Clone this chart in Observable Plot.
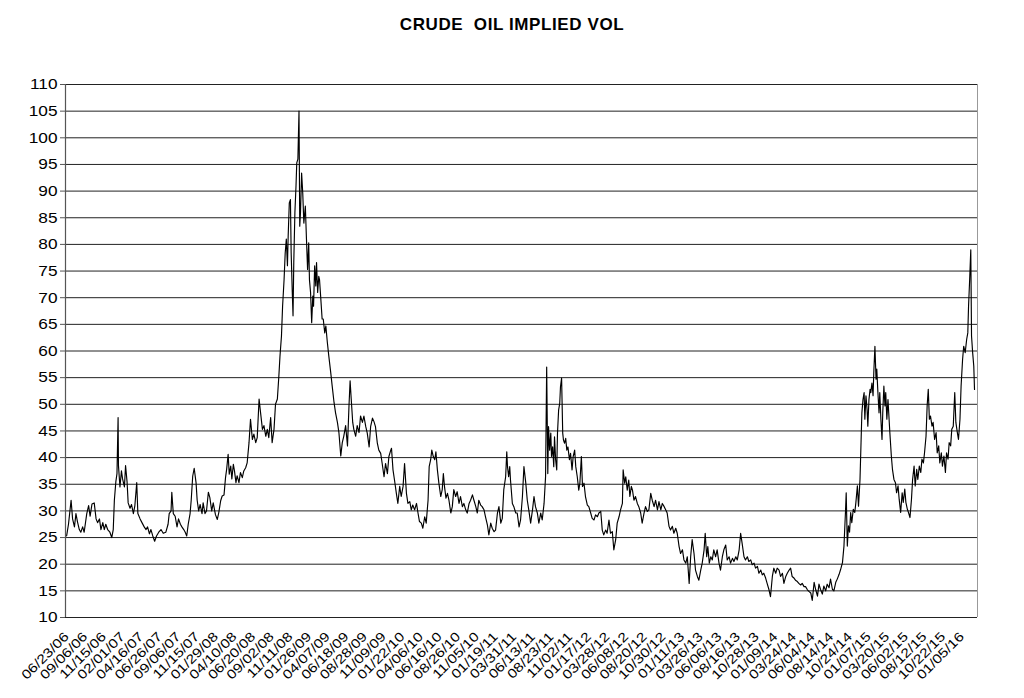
<!DOCTYPE html>
<html>
<head>
<meta charset="utf-8">
<script src="https://cdn.jsdelivr.net/npm/d3@7"></script>
<script src="https://cdn.jsdelivr.net/npm/@observablehq/plot@0.6"></script>
<style>
  html, body { margin: 0; padding: 0; background: #fff; }
  #wrap { position: relative; width: 1024px; height: 698px; }
  #title { position: absolute; top: 15px; left: 0; width: 1024px; text-align: center;
           font: bold 17px Arial, "Liberation Sans", sans-serif; letter-spacing: 0.6px; color: #000; }
</style>
</head>
<body>
<div id="wrap">
  <div id="title">CRUDE&nbsp; OIL IMPLIED VOL</div>
  <div id="chart"></div>
</div>
<script>
// Category labels shown every 50 trading days
const tickLabels = ["06/23/06","09/06/06","11/15/06","02/01/07","04/16/07","06/26/07","09/06/07","11/15/07",
  "01/29/08","04/10/08","06/20/08","09/02/08","11/11/08","01/26/09","04/07/09","06/18/09","08/28/09","11/09/09",
  "01/22/10","04/06/10","06/16/10","08/26/10","11/05/10","01/19/11","03/31/11","06/13/11","08/23/11","11/02/11",
  "01/17/12","03/28/12","06/08/12","08/20/12","10/30/12","01/11/13","03/26/13","06/06/13","08/16/13","10/28/13",
  "01/09/14","03/24/14","06/04/14","08/14/14","10/24/14","01/07/15","03/20/15","06/02/15","08/12/15","10/22/15","01/05/16"];
const labelStep = 50;
const yTicks = [10,15,20,25,30,35,40,45,50,55,60,65,70,75,80,85,90,95,100,105,110];

// [trading day index, implied vol]
const vol2006_2008 = [[0,25.3],[5,27.5],[12,32],[16,28.5],[21,27],[25,29.5],[29,28],[34,26.5],[38,26],[43,27],[47,26],[54,29.5],[59,31],[63,29],[68,31.3],[74,31.5],[79,28.5],[83,27.8],[88,28.5],[92,26.5],[97,27.8],[101,26.5],[105,27.5],[110,26.5],[116,26],[121,25],[125,26.5],[128,32],[132,35.5],[135,37],[138,47.5],[139,38.5],[143,34.5],[147,37.5],[150,36],[155,34.5],[158,38.5],[162,35.5],[165,31.5],[170,30.5],[174,31.2],[179,29.5],[183,31],[188,35.3],[191,29.5],[197,28.5],[202,27.8],[208,27],[213,26.5],[217,27],[222,25.7],[226,26.5],[231,25.3],[236,24.3],[241,25.3],[247,26],[253,26.5],[259,25.8],[266,26],[272,27.5],[275,29.5],[280,30],[282,33.5],[286,29.5],[291,29],[296,27],[300,28.5],[305,27.5],[309,27],[314,26.5],[318,26],[322,25.3],[326,27.5],[331,29.5],[334,32],[338,36.5],[342,38],[347,35.3],[350,32],[354,30],[358,31.2],[363,29.5],[366,31.5],[371,29.5],[375,30],[380,33.5],[384,32.5],[389,30],[393,31.5],[399,29.3]];
const vol2008_2009 = [[404,28.4],[408,29.7],[413,31.9],[417,32.8],[422,33],[426,36.25],[429,37.8],[433,40.6],[436,36.9],[440,38.4],[443,36],[447,38.75],[450,37.5],[454,35.3],[457,36.6],[462,35.3],[466,37.2],[471,36.25],[475,37.5],[480,38.1],[484,39],[489,42.8],[493,47.2],[498,43.4],[502,44.4],[507,42.8],[511,43.75],[516,51],[520,48.4],[525,45.3],[529,46],[534,44],[538,45.3],[542,43.75],[547,47.5],[551,42.8],[556,45.3],[560,50],[565,51],[569,55.3],[572,59],[576,62.8],[579,68.4],[583,73.4],[586,78.4],[589,81],[592,76],[594,81.6],[597,87.8],[600,88.4],[602,78.4],[605,71],[607,66.6],[609,76.6],[612,86],[615,91],[617,95.3],[620,96],[623,105],[625,83.4],[627,86],[630,93.4],[633,89.7],[636,84],[640,87.2],[643,81],[646,75.3],[649,80.3],[651,73.4],[654,71],[657,65.3],[660,70.3],[662,68.4],[665,76],[668,72.2],[670,76.6],[673,71],[676,74],[678,73.4],[681,70.3],[685,66],[688,66],[692,63.4],[695,64.7],[699,61.6],[703,59],[708,56],[712,53.4],[717,50.3],[721,48.4],[726,46.6],[730,44.7],[735,40.3],[739,42.8],[743,44],[748,46],[753,42.2],[757,49.7],[760,54.4],[763,51],[767,46.6],[770,45.3],[775,44],[779,46],[784,44.7],[788,47.8],[793,46.6],[797,47.8]];
const vol2009_2011 = [[802,45.8],[806,44.6],[811,42],[815,45.8],[820,47.4],[824,46.75],[828,45.8],[833,42.7],[837,41.4],[842,40.8],[846,38.9],[851,36.4],[855,38.9],[860,37],[864,40.2],[869,41.4],[871,41.75],[875,37.7],[879,35.8],[884,33.3],[888,31.4],[893,34.6],[897,32.7],[902,34.6],[906,38.9],[911,33.3],[915,31.4],[920,31.75],[924,30.2],[928,31.1],[933,30.2],[938,31.4],[942,29.6],[946,28],[951,27.7],[955,26.75],[960,28.9],[964,27.7],[969,32],[972,38.3],[976,39.6],[979,41.4],[983,40.2],[987,39.6],[990,41.1],[994,37.7],[998,35.2],[1003,32.7],[1007,34],[1010,37],[1013,34.6],[1017,32.4],[1021,33.3],[1025,32],[1030,29.6],[1034,30.8],[1038,34],[1043,32.7],[1047,33.6],[1052,31.4],[1056,32.7],[1061,30.8],[1065,31.4],[1070,30.2],[1074,29.6],[1079,31.4],[1083,32],[1088,33],[1092,32],[1097,30.8],[1101,29.6],[1105,32],[1110,31.1],[1114,30.8],[1119,30.2],[1123,28.9],[1128,27.4],[1132,25.5],[1137,27.7],[1141,26.75],[1146,26.1],[1150,26.4],[1155,29.6],[1159,30.8],[1164,27.7],[1168,28.6],[1172,34],[1177,36.4],[1180,41.1],[1182,38.3],[1185,36.4],[1188,38.3],[1190,35.8],[1195,31.4],[1199,30.8],[1204,29.6]];
const vol2011_2013 = [[1208,29.6],[1213,27],[1217,28.3],[1222,32.7],[1226,38.3],[1231,35.2],[1235,32],[1239,30.2],[1244,27.7],[1249,30.2],[1253,32.7],[1257,30.8],[1262,29.6],[1266,27.7],[1271,29.6],[1275,28.3],[1280,31.4],[1284,36.4],[1287,57],[1290,37],[1292,45.8],[1295,41.4],[1298,44.6],[1300,40.2],[1303,42],[1306,38.3],[1308,43.9],[1311,39.6],[1314,37.7],[1316,44.6],[1319,48.9],[1322,50.2],[1324,53.3],[1327,54.9],[1330,44.6],[1332,43.3],[1335,42.7],[1338,43.6],[1341,41.4],[1344,42],[1348,39.6],[1351,40.8],[1355,37.7],[1358,40.2],[1362,41.4],[1365,38.3],[1369,36.4],[1373,33.9],[1376,35.2],[1380,40.2],[1383,34.6],[1387,35.2],[1391,32.7],[1396,31.1],[1400,30.8],[1405,29.6],[1409,28.6],[1414,28.3],[1418,29.25],[1423,28.9],[1427,29.6],[1432,29.9],[1436,26.4],[1440,25.5],[1445,26.4],[1449,25.8],[1454,28.3],[1458,25.8],[1463,26.1],[1467,22.7],[1472,24.6],[1476,27.7],[1481,28.9],[1485,30.2],[1490,31.4],[1492,37.7],[1496,35.2],[1499,36.4],[1503,33.9],[1507,35.8],[1510,32.7],[1514,34.6],[1517,33.9],[1521,32],[1525,32.7],[1530,31.4],[1534,30.8],[1539,29.6],[1543,27.7],[1548,29.6],[1552,30.8],[1557,29.9],[1561,30.2],[1566,33.3],[1570,32],[1575,30.8],[1579,32],[1584,30.2],[1588,31.75],[1593,30.2],[1597,31.4],[1602,30.8]];
const vol2013_2014 = [[1606,30.2],[1610,29.6],[1615,27.1],[1619,26.4],[1624,27.1],[1628,25.8],[1633,26.75],[1637,25.8],[1642,23.3],[1646,22],[1651,22.7],[1655,20.8],[1660,20.2],[1664,21.4],[1669,16.4],[1673,21.4],[1677,24.6],[1682,22],[1686,18.9],[1691,17.7],[1695,17],[1700,18.9],[1704,20.2],[1709,22.7],[1712,25.8],[1716,21.4],[1719,23.3],[1723,20.2],[1727,21.4],[1731,20.8],[1735,22.7],[1740,21.4],[1744,22.7],[1749,20.2],[1753,18.9],[1758,21.4],[1762,22.7],[1767,23.6],[1771,20.8],[1776,21.4],[1780,20.2],[1785,21.1],[1789,20.5],[1794,21.4],[1798,20.8],[1803,22.7],[1807,25.8],[1811,23.9],[1816,21.4],[1820,20.8],[1825,21.4],[1829,20.5],[1834,20.8],[1838,19.9],[1843,20.2],[1847,19.25],[1852,19.6],[1856,18.3],[1861,18.9],[1865,18],[1869,18.3],[1874,17.4],[1878,16.4],[1883,15.2],[1887,13.9],[1892,17.7],[1896,19.25],[1901,18.3],[1905,19.25],[1910,18.9],[1914,17.7],[1919,18.3],[1923,16.4],[1928,17.7],[1932,18.3],[1937,18.9],[1941,19.25],[1945,17.7],[1950,17.4],[1954,17],[1959,16.75],[1963,16.4],[1968,16.1],[1972,16.4],[1977,15.8],[1981,15.8],[1986,15.2],[1990,14.9],[1995,14.6],[1999,13.2]];
const vol2014_2016 = [[2004,16.6],[2008,15.3],[2013,14],[2017,16.25],[2021,15.3],[2026,14.4],[2030,15.9],[2035,15],[2039,16.25],[2044,15.6],[2048,17.2],[2053,15.3],[2057,15],[2062,16.6],[2066,17.2],[2071,18.1],[2075,19],[2080,20.3],[2084,23.4],[2088,29.7],[2090,33.4],[2093,23.4],[2096,27.2],[2099,26],[2102,29.7],[2105,27.8],[2109,30.3],[2113,29.7],[2116,31.6],[2120,34.7],[2123,30.9],[2127,35.9],[2130,43.4],[2132,48.4],[2135,50.9],[2138,52.2],[2140,47.2],[2143,51.6],[2146,49],[2148,45.9],[2151,50.9],[2154,52.8],[2156,52.2],[2159,54],[2162,51.6],[2164,56],[2167,60.9],[2170,54.7],[2172,56.6],[2175,52.2],[2178,48.4],[2180,52.2],[2183,47.2],[2186,43.4],[2188,48.4],[2191,53.4],[2194,49.7],[2196,52.2],[2199,47.2],[2202,50.9],[2204,48.4],[2207,44.7],[2211,40.3],[2214,37.8],[2218,35.9],[2222,35.3],[2225,33.4],[2229,34.7],[2232,32.2],[2236,29.7],[2240,33.4],[2243,31.6],[2247,34.1],[2250,31.6],[2254,30.3],[2257,29.7],[2261,28.75],[2265,32.2],[2268,35.9],[2272,38.4],[2275,34.7],[2279,37.8],[2282,35.9],[2286,38.4],[2290,37.2],[2293,39.7],[2297,39],[2300,40.9],[2304,44],[2307,49.7],[2310,52.8],[2313,47.2],[2316,47.8],[2320,45.9],[2323,46.6],[2327,43.4],[2331,44.7],[2334,40.9],[2338,42.2],[2341,39],[2345,40.9],[2348,38.4],[2352,40.3],[2356,37.2],[2359,40.9],[2363,39.7],[2366,42.8],[2370,42.2],[2373,45.3],[2377,45.9],[2381,52.2],[2384,46.6],[2388,44.7],[2391,43.4],[2395,47.2],[2398,53.4],[2402,58.4],[2405,60.9],[2409,59.7],[2413,62.2],[2416,63.4],[2418,68.4],[2421,73.4],[2424,79],[2426,62.8],[2429,59.7],[2432,57.2],[2434,52.8]];

const series = [...vol2006_2008, ...vol2008_2009, ...vol2009_2011, ...vol2011_2013, ...vol2013_2014, ...vol2014_2016]
  .map(([day, vol]) => ({day, vol}));
const tickDays = tickLabels.map((_, k) => k * labelStep);
const xDomain = [-3, 2442];

const chart = Plot.plot({
  width: 1024,
  height: 698,
  marginLeft: 65,
  marginRight: 47,
  marginTop: 84,
  marginBottom: 81,
  style: { fontFamily: "Arial, 'Liberation Sans', sans-serif", color: "#000", background: "#fff" },
  x: { domain: xDomain, label: null },
  y: { domain: [10, 110], label: null },
  marks: [
    Plot.ruleY(yTicks, { stroke: "#222", strokeWidth: 1 }),
    Plot.ruleX([xDomain[1]], { stroke: "#999", strokeWidth: 1 }),
    Plot.line(series, { x: "day", y: "vol", stroke: "#000", strokeWidth: 1.15 }),
    Plot.ruleX([xDomain[0]], { stroke: "#555", strokeWidth: 1.2 }),
    Plot.axisY(yTicks, { tickSize: 5, tickPadding: 3, fontSize: 15, stroke: "#555", fill: "#000", label: null }),
    Plot.axisX(tickDays, { tickSize: 0, tickPadding: 17, tickRotate: -45, fontSize: 13, fill: "#000", label: null,
      tickFormat: d => tickLabels[Math.round(d / labelStep)] })
  ]
});
document.getElementById("chart").appendChild(chart);

// Stretch axis glyphs along their baseline, as in the original (stretched) export
function widen(selector, sx) {
  d3.select(chart).selectAll(selector).each(function () {
    const el = d3.select(this);
    const t = el.attr("transform");
    if (t) {
      el.attr("transform", `${t} scale(${sx},1)`);
    } else {
      const x = +el.attr("x") || 0, y = +el.attr("y") || 0;
      el.attr("x", null).attr("y", null).attr("transform", `translate(${x},${y}) scale(${sx},1)`);
    }
  });
}
widen('g[aria-label="x-axis tick label"] text', 1.2);
widen('g[aria-label="y-axis tick label"] text', 1.15);
</script>
</body>
</html>
